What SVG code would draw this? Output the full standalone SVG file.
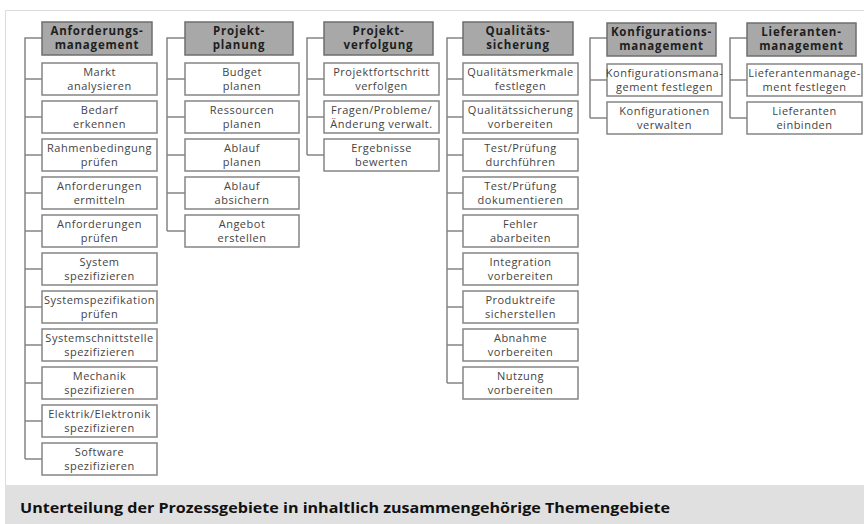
<svg xmlns="http://www.w3.org/2000/svg" width="864" height="524" viewBox="0 0 864 524">
<style>
.hd{fill:#a8a8a8;stroke:#6e6e6e;stroke-width:1.5}
.bx{fill:#fff;stroke:#858585;stroke-width:1.5}
.ht{font-family:"Open Sans","DejaVu Sans",sans-serif;font-weight:bold;font-size:11.5px;letter-spacing:0.8px;fill:#1e1e1e;text-anchor:middle}
.ct{font-family:"Open Sans","DejaVu Sans",sans-serif;font-size:11px;letter-spacing:0.5px;fill:#444;text-anchor:middle}
.cn{fill:none;stroke:#858585;stroke-width:1.5}
.cap{font-family:"Open Sans","Noto Sans",sans-serif;font-weight:bold;font-size:15px;fill:#111}
</style>
<rect x="0" y="0" width="864" height="524" fill="#fff"/>
<path d="M5.5 485 V10.5 H864" fill="none" stroke="#dcdcdc" stroke-width="1"/>
<rect x="5" y="485" width="859" height="39" fill="#e0e0e0"/>
<text class="cap" x="20" y="513" textLength="650" lengthAdjust="spacingAndGlyphs">Unterteilung der Prozessgebiete in inhaltlich zusammengehörige Themengebiete</text>

<g id="connectors">
<path class="cn" d="M42 38 H25 V459 M25 79 H42 M25 117 H42 M25 155 H42 M25 193 H42 M25 231 H42 M25 269 H42 M25 307 H42 M25 345 H42 M25 383 H42 M25 421 H42 M25 459 H42"/>
<path class="cn" d="M185 38 H167 V231 M167 79 H185 M167 117 H185 M167 155 H185 M167 193 H185 M167 231 H185"/>
<path class="cn" d="M324 38 H307 V155 M307 79 H324 M307 117 H324 M307 155 H324"/>
<path class="cn" d="M463 38 H447 V383 M447 79 H463 M447 117 H463 M447 155 H463 M447 193 H463 M447 231 H463 M447 269 H463 M447 307 H463 M447 345 H463 M447 383 H463"/>
<path class="cn" d="M607 38 H590 V118 M590 80 H607 M590 118 H607"/>
<path class="cn" d="M747 38 H730 V118 M730 80 H747 M730 118 H747"/>
</g>

<g id="anforderungsmanagement">
<rect class="hd" x="42" y="22" width="110" height="33"/>
<text class="ht" x="97" y="35">Anforderungs-</text><text class="ht" x="97" y="49">management</text>
</g>
<g id="a1"><rect class="bx" x="42" y="63" width="115" height="32"/><text class="ct" x="99.5" y="76">Markt</text><text class="ct" x="99.5" y="90">analysieren</text></g>
<g id="a2"><rect class="bx" x="42" y="101" width="115" height="32"/><text class="ct" x="99.5" y="114">Bedarf</text><text class="ct" x="99.5" y="128">erkennen</text></g>
<g id="a3"><rect class="bx" x="42" y="139" width="115" height="32"/><text class="ct" x="99.5" y="152">Rahmenbedingung</text><text class="ct" x="99.5" y="166">prüfen</text></g>
<g id="a4"><rect class="bx" x="42" y="177" width="115" height="32"/><text class="ct" x="99.5" y="190">Anforderungen</text><text class="ct" x="99.5" y="204">ermitteln</text></g>
<g id="a5"><rect class="bx" x="42" y="215" width="115" height="32"/><text class="ct" x="99.5" y="228">Anforderungen</text><text class="ct" x="99.5" y="242">prüfen</text></g>
<g id="a6"><rect class="bx" x="42" y="253" width="115" height="32"/><text class="ct" x="99.5" y="266">System</text><text class="ct" x="99.5" y="280">spezifizieren</text></g>
<g id="a7"><rect class="bx" x="42" y="291" width="115" height="32"/><text class="ct" x="99.5" y="304">Systemspezifikation</text><text class="ct" x="99.5" y="318">prüfen</text></g>
<g id="a8"><rect class="bx" x="42" y="329" width="115" height="32"/><text class="ct" x="99.5" y="342">Systemschnittstelle</text><text class="ct" x="99.5" y="356">spezifizieren</text></g>
<g id="a9"><rect class="bx" x="42" y="367" width="115" height="32"/><text class="ct" x="99.5" y="380">Mechanik</text><text class="ct" x="99.5" y="394">spezifizieren</text></g>
<g id="a10"><rect class="bx" x="42" y="405" width="115" height="32"/><text class="ct" x="99.5" y="418">Elektrik/Elektronik</text><text class="ct" x="99.5" y="432">spezifizieren</text></g>
<g id="a11"><rect class="bx" x="42" y="443" width="115" height="32"/><text class="ct" x="99.5" y="456">Software</text><text class="ct" x="99.5" y="470">spezifizieren</text></g>

<g id="projektplanung">
<rect class="hd" x="185" y="22" width="108" height="33"/>
<text class="ht" x="239" y="35">Projekt-</text><text class="ht" x="239" y="49">planung</text>
</g>
<g id="p1"><rect class="bx" x="185" y="63" width="114" height="32"/><text class="ct" x="242" y="76">Budget</text><text class="ct" x="242" y="90">planen</text></g>
<g id="p2"><rect class="bx" x="185" y="101" width="114" height="32"/><text class="ct" x="242" y="114">Ressourcen</text><text class="ct" x="242" y="128">planen</text></g>
<g id="p3"><rect class="bx" x="185" y="139" width="114" height="32"/><text class="ct" x="242" y="152">Ablauf</text><text class="ct" x="242" y="166">planen</text></g>
<g id="p4"><rect class="bx" x="185" y="177" width="114" height="32"/><text class="ct" x="242" y="190">Ablauf</text><text class="ct" x="242" y="204">absichern</text></g>
<g id="p5"><rect class="bx" x="185" y="215" width="114" height="32"/><text class="ct" x="242" y="228">Angebot</text><text class="ct" x="242" y="242">erstellen</text></g>

<g id="projektverfolgung">
<rect class="hd" x="324" y="22" width="109" height="33"/>
<text class="ht" x="378.5" y="35">Projekt-</text><text class="ht" x="378.5" y="49">verfolgung</text>
</g>
<g id="v1"><rect class="bx" x="324" y="63" width="115" height="32"/><text class="ct" x="381.5" y="76">Projektfortschritt</text><text class="ct" x="381.5" y="90">verfolgen</text></g>
<g id="v2"><rect class="bx" x="324" y="101" width="115" height="32"/><text class="ct" x="381.5" y="114">Fragen/Probleme/</text><text class="ct" x="381.5" y="128">Änderung verwalt.</text></g>
<g id="v3"><rect class="bx" x="324" y="139" width="115" height="32"/><text class="ct" x="381.5" y="152">Ergebnisse</text><text class="ct" x="381.5" y="166">bewerten</text></g>

<g id="qualitaetssicherung">
<rect class="hd" x="463" y="22" width="110" height="33"/>
<text class="ht" x="518" y="35">Qualitäts-</text><text class="ht" x="518" y="49">sicherung</text>
</g>
<g id="q1"><rect class="bx" x="463" y="63" width="115" height="32"/><text class="ct" x="520.5" y="76">Qualitätsmerkmale</text><text class="ct" x="520.5" y="90">festlegen</text></g>
<g id="q2"><rect class="bx" x="463" y="101" width="115" height="32"/><text class="ct" x="520.5" y="114">Qualitätssicherung</text><text class="ct" x="520.5" y="128">vorbereiten</text></g>
<g id="q3"><rect class="bx" x="463" y="139" width="115" height="32"/><text class="ct" x="520.5" y="152">Test/Prüfung</text><text class="ct" x="520.5" y="166">durchführen</text></g>
<g id="q4"><rect class="bx" x="463" y="177" width="115" height="32"/><text class="ct" x="520.5" y="190">Test/Prüfung</text><text class="ct" x="520.5" y="204">dokumentieren</text></g>
<g id="q5"><rect class="bx" x="463" y="215" width="115" height="32"/><text class="ct" x="520.5" y="228">Fehler</text><text class="ct" x="520.5" y="242">abarbeiten</text></g>
<g id="q6"><rect class="bx" x="463" y="253" width="115" height="32"/><text class="ct" x="520.5" y="266">Integration</text><text class="ct" x="520.5" y="280">vorbereiten</text></g>
<g id="q7"><rect class="bx" x="463" y="291" width="115" height="32"/><text class="ct" x="520.5" y="304">Produktreife</text><text class="ct" x="520.5" y="318">sicherstellen</text></g>
<g id="q8"><rect class="bx" x="463" y="329" width="115" height="32"/><text class="ct" x="520.5" y="342">Abnahme</text><text class="ct" x="520.5" y="356">vorbereiten</text></g>
<g id="q9"><rect class="bx" x="463" y="367" width="115" height="32"/><text class="ct" x="520.5" y="380">Nutzung</text><text class="ct" x="520.5" y="394">vorbereiten</text></g>

<g id="konfigurationsmanagement">
<rect class="hd" x="607" y="23" width="109" height="33"/>
<text class="ht" x="661.5" y="36">Konfigurations-</text><text class="ht" x="661.5" y="50">management</text>
</g>
<g id="k1"><rect class="bx" x="607" y="64" width="115" height="32"/><text class="ct" x="664.5" y="77">Konfigurationsmana-</text><text class="ct" x="664.5" y="91">gement festlegen</text></g>
<g id="k2"><rect class="bx" x="607" y="102" width="115" height="32"/><text class="ct" x="664.5" y="115">Konfigurationen</text><text class="ct" x="664.5" y="129">verwalten</text></g>

<g id="lieferantenmanagement">
<rect class="hd" x="747" y="23" width="109" height="33"/>
<text class="ht" x="801.5" y="36">Lieferanten-</text><text class="ht" x="801.5" y="50">management</text>
</g>
<g id="l1"><rect class="bx" x="747" y="64" width="115" height="32"/><text class="ct" x="804.5" y="77">Lieferantenmanage-</text><text class="ct" x="804.5" y="91">ment festlegen</text></g>
<g id="l2"><rect class="bx" x="747" y="102" width="115" height="32"/><text class="ct" x="804.5" y="115">Lieferanten</text><text class="ct" x="804.5" y="129">einbinden</text></g>
</svg>
